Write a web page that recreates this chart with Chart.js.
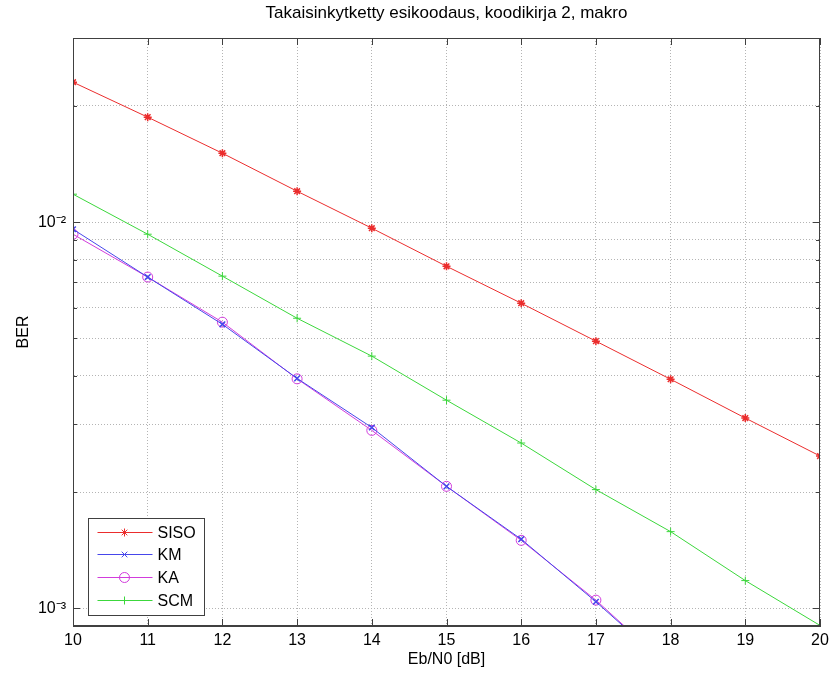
<!DOCTYPE html>
<html>
<head>
<meta charset="utf-8">
<title>Takaisinkytketty esikoodaus</title>
<script src="https://cdn.jsdelivr.net/npm/chart.js@4.4.1/dist/chart.umd.min.js"></script>
<style>
  html, body { margin: 0; padding: 0; background: #fff; }
  #kaavio { display: block; }
</style>
</head>
<body>
<canvas id="kaavio" width="835" height="677"></canvas>
<script>
// Eb/N0 arvot (dB)
const ebn0 = [10, 11, 12, 13, 14, 15, 16, 17, 18, 19, 20];

// BER-käyrät kuvasta luettuna
const siso = [0.02305, 0.01871, 0.01509, 0.01203, 0.00965, 0.00769, 0.00617, 0.00492, 0.00392, 0.00311, 0.00248];
const km   = [0.00959, 0.00721, 0.00544, 0.00394, 0.00294, 0.00207, 0.00151, 0.00104, 0.00070];
const ka   = [0.00931, 0.00721, 0.00551, 0.00393, 0.00289, 0.00207, 0.00150, 0.00105, 0.00070];
const scm  = [0.01182, 0.00931, 0.00725, 0.00564, 0.00450, 0.00346, 0.00268, 0.00203, 0.00158, 0.00118, 0.000903];

// y-akselin ruudukko ja merkityt tikit
const yRuudukko = [0.001, 0.002, 0.003, 0.004, 0.005, 0.006, 0.007, 0.008, 0.009, 0.01, 0.02, 0.03];
const yMerkit = ["10⁻³", "10⁻²"];
const yMerkitArvot = [0.001, 0.01];

const fontti = '"Liberation Sans", Arial, Helvetica, sans-serif';
const kehysVari = "#404040";

function pisteet(arvot) {
  return arvot.map((v, i) => ({ x: ebn0[i], y: v }));
}

// Otsikko piirtoalueen keskelle
const otsikkoPlugin = {
  id: "otsikko",
  afterDraw(chart) {
    const ctx = chart.ctx;
    const a = chart.chartArea;
    ctx.save();
    ctx.fillStyle = "#000";
    ctx.font = "17px " + fontti;
    ctx.textAlign = "center";
    ctx.textBaseline = "middle";
    ctx.fillText("Takaisinkytketty esikoodaus, koodikirja 2, makro", (a.left + a.right) / 2, 13);
    ctx.restore();
  }
};

// MATLAB-tyylinen kehys ja sisäänpäin osoittavat tikit
const kehysPlugin = {
  id: "kehys",
  afterDatasetsDraw(chart) {
    const ctx = chart.ctx;
    const a = chart.chartArea;
    const x = chart.scales.x;
    const y = chart.scales.y;
    ctx.save();
    ctx.strokeStyle = kehysVari;
    ctx.lineWidth = 1;
    ctx.strokeRect(a.left + 0.5, a.top + 0.5, a.right - a.left - 1, a.bottom - a.top - 1);
    ctx.beginPath();
    x.ticks.forEach((t) => {
      const px = Math.round(x.getPixelForValue(t.value)) + 0.5;
      ctx.moveTo(px, a.bottom); ctx.lineTo(px, a.bottom - 7);
      ctx.moveTo(px, a.top); ctx.lineTo(px, a.top + 7);
    });
    y.ticks.forEach((t) => {
      const py = Math.round(y.getPixelForValue(t.value)) + 0.5;
      const iso = yMerkitArvot.some((m) => Math.abs(m - t.value) < 1e-9);
      const pit = iso ? 7 : 4;
      ctx.moveTo(a.left, py); ctx.lineTo(a.left + pit, py);
      ctx.moveTo(a.right, py); ctx.lineTo(a.right - pit, py);
    });
    ctx.stroke();
    ctx.restore();
  }
};

// Selite vasempaan alakulmaan
function piirraMerkki(ctx, tyyli, cx, cy, r) {
  ctx.beginPath();
  if (tyyli === "circle") {
    ctx.arc(cx, cy, r, 0, Math.PI * 2);
  } else if (tyyli === "crossRot") {
    ctx.moveTo(cx - r * 0.7, cy - r * 0.7); ctx.lineTo(cx + r * 0.7, cy + r * 0.7);
    ctx.moveTo(cx + r * 0.7, cy - r * 0.7); ctx.lineTo(cx - r * 0.7, cy + r * 0.7);
  } else if (tyyli === "star") {
    ctx.moveTo(cx - r, cy); ctx.lineTo(cx + r, cy);
    ctx.moveTo(cx, cy - r); ctx.lineTo(cx, cy + r);
    ctx.moveTo(cx - r * 0.7, cy - r * 0.7); ctx.lineTo(cx + r * 0.7, cy + r * 0.7);
    ctx.moveTo(cx + r * 0.7, cy - r * 0.7); ctx.lineTo(cx - r * 0.7, cy + r * 0.7);
  } else {
    ctx.moveTo(cx - r, cy); ctx.lineTo(cx + r, cy);
    ctx.moveTo(cx, cy - r); ctx.lineTo(cx, cy + r);
  }
  ctx.stroke();
}

const selitePlugin = {
  id: "selite",
  afterDraw(chart) {
    const ctx = chart.ctx;
    const a = chart.chartArea;
    const vasen = a.left + 15.5;
    const ala = a.bottom - 10.5;
    const lev = 116;
    const kork = 97;
    const yla = ala - kork;
    ctx.save();
    ctx.fillStyle = "#fff";
    ctx.fillRect(vasen, yla, lev, kork);
    ctx.strokeStyle = kehysVari;
    ctx.lineWidth = 1;
    ctx.strokeRect(vasen, yla, lev, kork);
    ctx.font = "16px " + fontti;
    ctx.textBaseline = "middle";
    chart.data.datasets.forEach((ds, i) => {
      const ry = Math.round(yla + 13 + i * 22.7) + 0.5;
      ctx.strokeStyle = ds.borderColor;
      ctx.beginPath();
      ctx.moveTo(vasen + 9, ry); ctx.lineTo(vasen + 64, ry);
      ctx.stroke();
      piirraMerkki(ctx, ds.pointStyle, vasen + 36, ry, ds.pointRadius);
      ctx.fillStyle = "#000";
      ctx.fillText(ds.label, vasen + 69, ry + 1);
    });
    ctx.restore();
  }
};

const ctx = document.getElementById("kaavio").getContext("2d");
new Chart(ctx, {
  type: "line",
  data: {
    datasets: [
      { label: "SISO", data: pisteet(siso), borderColor: "rgb(235,45,45)", backgroundColor: "rgba(0,0,0,0)",
        borderWidth: 1, pointStyle: "star", pointRadius: 4, pointBorderWidth: 1.5 },
      { label: "KM", data: pisteet(km), borderColor: "rgb(70,70,235)", backgroundColor: "rgba(0,0,0,0)",
        borderWidth: 1, pointStyle: "crossRot", pointRadius: 4, pointBorderWidth: 1.5 },
      { label: "KA", data: pisteet(ka), borderColor: "rgb(210,60,220)", backgroundColor: "rgba(0,0,0,0)",
        borderWidth: 1, pointStyle: "circle", pointRadius: 5, pointBorderWidth: 1 },
      { label: "SCM", data: pisteet(scm), borderColor: "rgb(60,215,60)", backgroundColor: "rgba(0,0,0,0)",
        borderWidth: 1, pointStyle: "cross", pointRadius: 4, pointBorderWidth: 1 }
    ]
  },
  options: {
    responsive: false,
    animation: false,
    layout: { padding: { top: 38, right: 15, left: 0, bottom: 0 } },
    plugins: {
      legend: { display: false },
      tooltip: { enabled: false },
      title: { display: false }
    },
    elements: { line: { tension: 0 } },
    scales: {
      x: {
        type: "linear",
        min: 10,
        max: 20,
        ticks: { stepSize: 1, color: "#000", font: { family: fontti, size: 16 }, padding: 5, maxRotation: 0 },
        grid: { color: "#b4b4b4", lineWidth: 1, drawTicks: false },
        border: { display: true, color: kehysVari, width: 1, dash: [1, 2] },
        title: { display: true, text: "Eb/N0 [dB]", color: "#000", font: { family: fontti, size: 16 }, padding: { top: 0, bottom: 8 } },
        afterFit(scale) { scale.height = 51; }
      },
      y: {
        type: "logarithmic",
        min: 0.0009,
        max: 0.03,
        afterBuildTicks(scale) {
          scale.ticks = yRuudukko.map((v) => ({ value: v, major: yMerkitArvot.includes(v) }));
        },
        ticks: {
          color: "#000",
          font: { family: fontti, size: 16 },
          padding: 7,
          autoSkip: false,
          callback(value) {
            const i = yMerkitArvot.findIndex((m) => Math.abs(m - value) < 1e-9);
            return i >= 0 ? yMerkit[i] : "";
          }
        },
        grid: { color: "#b4b4b4", lineWidth: 1, drawTicks: false },
        border: { display: true, color: kehysVari, width: 1, dash: [1, 2] },
        title: { display: true, text: "BER", color: "#000", font: { family: fontti, size: 16 }, padding: { top: 14, bottom: 0 } },
        afterFit(scale) { scale.width = 73; }
      }
    }
  },
  plugins: [otsikkoPlugin, kehysPlugin, selitePlugin]
});
</script>
</body>
</html>
